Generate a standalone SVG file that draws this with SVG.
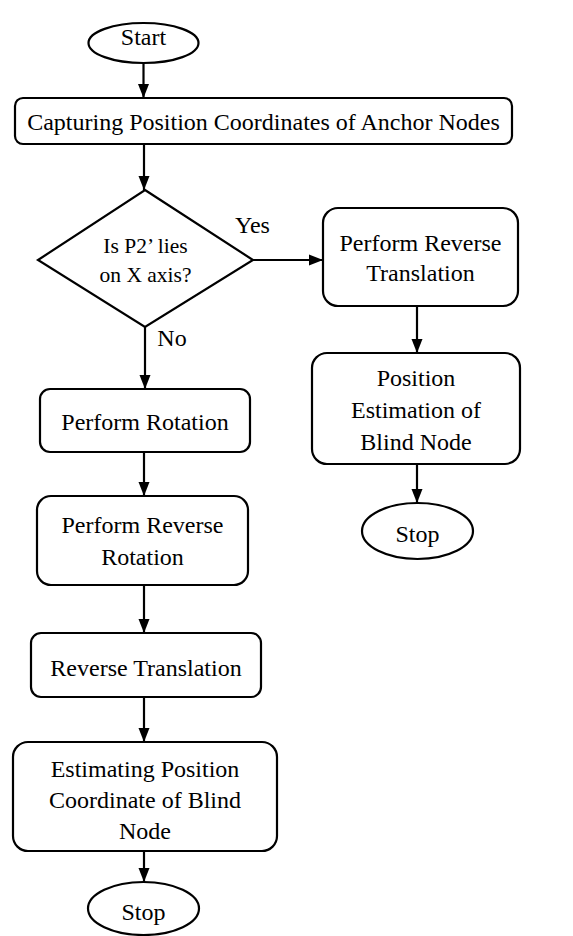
<svg xmlns="http://www.w3.org/2000/svg" width="573" height="936" viewBox="0 0 573 936">
<style>
.s{fill:#fff;stroke:#000;stroke-width:2.2}
.t{font-family:"Liberation Serif","Times New Roman",serif;font-size:24px;fill:#000;text-anchor:middle}
.d{font-size:21.5px}
.c{stroke:#000;stroke-width:2.2;fill:none;marker-end:url(#ah)}
</style>
<defs>
<marker id="ah" markerUnits="userSpaceOnUse" markerWidth="14" markerHeight="14" viewBox="0 0 14 14" refX="14" refY="7" orient="auto">
<path d="M0,1.5 L14,7 L0,12.5 Z" fill="#000"/>
</marker>
</defs>
<g id="connectors">
<line class="c" x1="143.5" y1="63" x2="143.5" y2="98"/>
<line class="c" x1="144" y1="144" x2="144" y2="190"/>
<line class="c" x1="253" y1="260" x2="323" y2="260"/>
<line class="c" x1="417" y1="306" x2="417" y2="353"/>
<line class="c" x1="417" y1="464" x2="417" y2="503"/>
<line class="c" x1="145" y1="327" x2="145" y2="389"/>
<line class="c" x1="144" y1="452" x2="144" y2="496"/>
<line class="c" x1="144" y1="585" x2="144" y2="633"/>
<line class="c" x1="144" y1="697" x2="144" y2="742"/>
<line class="c" x1="144" y1="851" x2="144" y2="882"/>
<text class="t" x="252.5" y="233">Yes</text>
<text class="t" x="172" y="346">No</text>
</g>
<g id="start">
<ellipse class="s" cx="143.5" cy="43" rx="55" ry="20"/>
<text class="t" x="143.5" y="45">Start</text>
</g>
<g id="capture">
<rect class="s" x="15" y="98" width="497" height="46" rx="8"/>
<text class="t" x="263.5" y="130">Capturing Position Coordinates of Anchor Nodes</text>
</g>
<g id="decision">
<polygon class="s" points="145,190 253,260 145,327 38,260"/>
<text class="t d" x="145.5" y="253">Is P2’ lies</text>
<text class="t d" x="145.5" y="282">on X axis?</text>
</g>
<g id="revtrans_right">
<rect class="s" x="323" y="208" width="195" height="98" rx="15"/>
<text class="t" x="420.5" y="251">Perform Reverse</text>
<text class="t" x="420.5" y="281">Translation</text>
</g>
<g id="posest_right">
<rect class="s" x="312" y="353" width="208" height="111" rx="15"/>
<text class="t" x="416" y="386">Position</text>
<text class="t" x="416" y="418">Estimation of</text>
<text class="t" x="416" y="450">Blind Node</text>
</g>
<g id="stop_right">
<ellipse class="s" cx="417.5" cy="531" rx="55.5" ry="28"/>
<text class="t" x="417.5" y="542">Stop</text>
</g>
<g id="rotation">
<rect class="s" x="40" y="389" width="210" height="63" rx="10"/>
<text class="t" x="145" y="430">Perform Rotation</text>
</g>
<g id="revrotation">
<rect class="s" x="37" y="496" width="211" height="89" rx="14"/>
<text class="t" x="142.5" y="533">Perform Reverse</text>
<text class="t" x="142.5" y="565">Rotation</text>
</g>
<g id="revtrans_left">
<rect class="s" x="31" y="633" width="230" height="64" rx="10"/>
<text class="t" x="146" y="676">Reverse Translation</text>
</g>
<g id="estimating">
<rect class="s" x="13" y="742" width="264" height="109" rx="15"/>
<text class="t" x="145" y="777">Estimating Position</text>
<text class="t" x="145" y="808">Coordinate of Blind</text>
<text class="t" x="145" y="839">Node</text>
</g>
<g id="stop_left">
<ellipse class="s" cx="143.5" cy="908.5" rx="55.5" ry="26.5"/>
<text class="t" x="143.5" y="920">Stop</text>
</g>
</svg>
